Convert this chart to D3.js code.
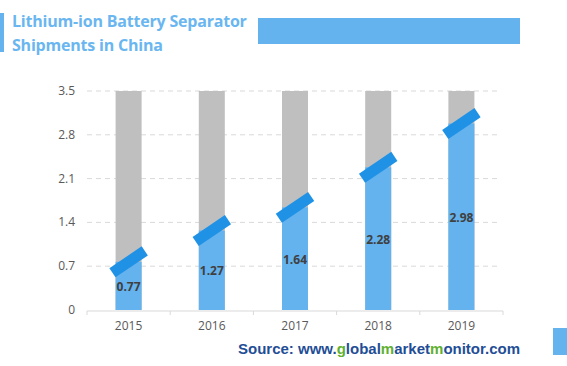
<!DOCTYPE html>
<html>
<head>
<meta charset="utf-8">
<script src="https://cdn.jsdelivr.net/npm/d3@7"></script>
<style>
  body { margin: 0; background: #fff; }
  svg { display: block; font-family: "Open Sans", "Liberation Sans", sans-serif; }
</style>
</head>
<body>
<div id="chart"></div>
<script>
/* DATA */
const years = ["2015", "2016", "2017", "2018", "2019"];
const shipments = [0.77, 1.27, 1.64, 2.28, 2.98];
const yTicks = [0, 0.7, 1.4, 2.1, 2.8, 3.5];
const yMax = 3.5;

/* CONSTANTS */
const width = 567, height = 366;
const margin = { top: 91, bottom: 56, left: 87, right: 64 };
const blue = "#64b2ee", marker = "#2092e6", grey = "#bfbfbf";

const svg = d3.select("#chart").append("svg")
  .attr("width", width).attr("height", height);

const x = d3.scaleBand()
  .domain(years)
  .range([margin.left, width - margin.right]);

const y = d3.scaleLinear()
  .domain([0, yMax])
  .range([height - margin.bottom, margin.top]);

const barW = 26;

/* grid */
svg.append("g").selectAll("line")
  .data(yTicks.slice(1))
  .join("line")
  .attr("x1", margin.left).attr("x2", width - margin.right - 4)
  .attr("y1", d => y(d)).attr("y2", d => y(d))
  .attr("stroke", "#d9d9d9")
  .attr("stroke-dasharray", "5,4");

/* y labels */
svg.append("g").selectAll("text")
  .data(yTicks)
  .join("text")
  .attr("x", 75).attr("y", d => y(d) + 4)
  .attr("text-anchor", "end")
  .attr("font-size", 12)
  .attr("fill", "#595959")
  .text(d => d);

/* background bars */
svg.append("g").selectAll("rect")
  .data(years)
  .join("rect")
  .attr("x", d => x(d) + x.bandwidth() / 2 - barW / 2)
  .attr("width", barW)
  .attr("y", y(yMax))
  .attr("height", y(0) - y(yMax))
  .attr("fill", grey);

/* value bars */
svg.append("g").selectAll("rect")
  .data(shipments)
  .join("rect")
  .attr("x", (d, i) => x(years[i]) + x.bandwidth() / 2 - barW / 2)
  .attr("width", barW)
  .attr("y", d => y(d))
  .attr("height", d => y(0) - y(d))
  .attr("fill", blue);

/* x axis */
const axisG = svg.append("g")
  .attr("transform", `translate(0,${y(0) + 1})`);
axisG.append("line")
  .attr("x1", margin.left).attr("x2", width - margin.right)
  .attr("stroke", "#d9d9d9");
axisG.selectAll("line.tick")
  .data(d3.range(years.length + 1))
  .join("line")
  .attr("class", "tick")
  .attr("x1", i => margin.left + i * x.step())
  .attr("x2", i => margin.left + i * x.step())
  .attr("y1", 0).attr("y2", 4)
  .attr("stroke", "#d9d9d9");
axisG.selectAll("text")
  .data(years)
  .join("text")
  .attr("x", d => x(d) + x.bandwidth() / 2)
  .attr("y", 19)
  .attr("text-anchor", "middle")
  .attr("font-size", 12)
  .attr("fill", "#595959")
  .text(d => d);

/* slanted markers */
svg.append("g").selectAll("rect")
  .data(shipments)
  .join("rect")
  .attr("x", -19.5).attr("y", -5.5)
  .attr("width", 39).attr("height", 11)
  .attr("fill", marker)
  .attr("transform", (d, i) => `translate(${x(years[i]) + x.bandwidth() / 2},${y(d)}) rotate(-34)`);

/* value labels */
svg.append("g").selectAll("text")
  .data(shipments)
  .join("text")
  .attr("x", (d, i) => x(years[i]) + x.bandwidth() / 2)
  .attr("y", d => y(d / 2) + 5)
  .attr("text-anchor", "middle")
  .attr("font-size", 12)
  .attr("font-weight", "bold")
  .attr("fill", "#404040")
  .text(d => d.toFixed(2));

/* title */
svg.append("rect").attr("x", 0).attr("y", 13).attr("width", 4).attr("height", 39).attr("fill", blue);
svg.append("text").attr("x", 12).attr("y", 27)
  .attr("font-size", 16).attr("font-weight", "bold").attr("fill", "#6ab6f0")
  .attr("letter-spacing", -0.2)
  .text("Lithium-ion Battery Separator");
svg.append("text").attr("x", 12).attr("y", 51)
  .attr("font-size", 16).attr("font-weight", "bold").attr("fill", "#6ab6f0")
  .attr("letter-spacing", -0.2)
  .text("Shipments in China");
svg.append("rect").attr("x", 258).attr("y", 18).attr("width", 262).attr("height", 26).attr("fill", blue);

/* source */
const src = svg.append("text")
  .attr("x", 238).attr("y", 354)
  .attr("font-family", "'Liberation Sans', Arial, sans-serif")
  .attr("font-size", 15).attr("font-weight", "bold")
  .attr("fill", "#1f4e96");
[["Source: www.", "#1f4e96"], ["g", "#5fb030"], ["lobal", "#1f4e96"], ["m", "#5fb030"],
 ["arket", "#1f4e96"], ["m", "#5fb030"], ["onitor.com", "#1f4e96"]]
  .forEach(([t, c]) => src.append("tspan").attr("fill", c).text(t));

svg.append("rect").attr("x", 553).attr("y", 328).attr("width", 14).attr("height", 27).attr("fill", blue);
</script>
</body>
</html>
